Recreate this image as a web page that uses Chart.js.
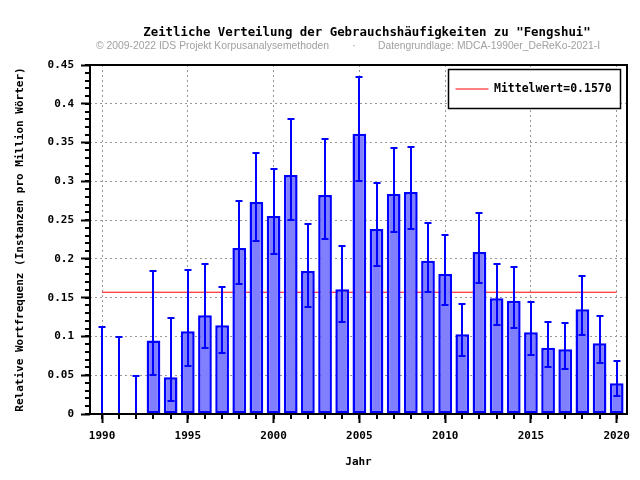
<!DOCTYPE html>
<html>
<head>
<meta charset="utf-8">
<style>
  html, body { margin: 0; padding: 0; background: #fff; }
  #wrap { width: 640px; height: 480px; }
</style>
<script src="https://cdn.jsdelivr.net/npm/chart.js@4"></script>
</head>
<body>
<div id="wrap"><canvas id="c" width="640" height="480"></canvas></div>
<script>
const titleText = 'Zeitliche Verteilung der Gebrauchshäufigkeiten zu "Fengshui"';
const subLeft = '© 2009-2022 IDS Projekt Korpusanalysemethoden';
const subDot = '·';
const subRight = 'Datengrundlage: MDCA-1990er_DeReKo-2021-I';
const yTitle = 'Relative Wortfrequenz (Instanzen pro Million Wörter)';
const xTitle = 'Jahr';
const legendLabel = 'Mittelwert=0.1570';

const years = [1990,1991,1992,1993,1994,1995,1996,1997,1998,1999,2000,2001,2002,2003,2004,2005,2006,2007,2008,2009,2010,2011,2012,2013,2014,2015,2016,2017,2018,2019,2020];
const values = [0,0,0,0.0947,0.0473,0.1067,0.1274,0.1145,0.214,0.2734,0.2553,0.3083,0.1843,0.2825,0.161,0.3613,0.2385,0.2837,0.2863,0.1977,0.1804,0.1028,0.2088,0.1494,0.146,0.1054,0.0853,0.0835,0.1351,0.0912,0.0395];
const upper = [0.1128,0.099,0.0486,0.1839,0.1244,0.1851,0.1929,0.1632,0.2743,0.3363,0.3157,0.3802,0.2446,0.3544,0.2166,0.4349,0.2975,0.3432,0.3445,0.2463,0.2308,0.1412,0.2588,0.1933,0.189,0.1442,0.1183,0.1167,0.1774,0.127,0.068];
const lower = [0,0,0,0.0499,0.0172,0.0615,0.0848,0.0792,0.1675,0.2226,0.2062,0.2497,0.1378,0.2252,0.118,0.3005,0.1903,0.2342,0.2381,0.1571,0.1399,0.0744,0.1687,0.1154,0.1115,0.0766,0.0602,0.0585,0.1025,0.0654,0.0227];
const meanValue = 0.1570;
const meanRange = [1990, 2020];

const xTicks = [1990,1995,2000,2005,2010,2015,2020];
const xTickLabels = ['1990','1995','2000','2005','2010','2015','2020'];
const yTicks = [0,0.05,0.1,0.15,0.2,0.25,0.3,0.35,0.4,0.45];
const yTickLabels = ['0','0.05','0.1','0.15','0.2','0.25','0.3','0.35','0.4','0.45'];
const xMinorTicks = years;
const yMinorTicks = [0,0.01,0.02,0.03,0.04,0.05,0.06,0.07,0.08,0.09,0.1,0.11,0.12,0.13,0.14,0.15,0.16,0.17,0.18,0.19,0.2,0.21,0.22,0.23,0.24,0.25,0.26,0.27,0.28,0.29,0.3,0.31,0.32,0.33,0.34,0.35,0.36,0.37,0.38,0.39,0.4,0.41,0.42,0.43,0.44,0.45];

const MONO = '"DejaVu Sans Mono", "Liberation Mono", monospace';
const SANS = '"Liberation Sans", Arial, sans-serif';

function fitText(ctx, text, x, y, width) {
  const w = ctx.measureText(text).width;
  ctx.save();
  ctx.translate(x, y);
  ctx.scale(width / w, 1);
  ctx.fillText(text, 0, 0);
  ctx.restore();
}

const decor = {
  id: 'decor',
  afterDatasetsDraw(chart) {
    const ctx = chart.ctx;
    const xs = chart.scales.x, ys = chart.scales.y;
    ctx.save();
    ctx.strokeStyle = '#0000ff';
    ctx.lineWidth = 2;
    ctx.lineCap = 'butt';
    for (let i = 0; i < years.length; i++) {
      const px = Math.round(xs.getPixelForValue(years[i]));
      const yTop = Math.round(ys.getPixelForValue(upper[i]));
      const yBot = Math.round(ys.getPixelForValue(lower[i]));
      ctx.beginPath();
      ctx.moveTo(px, yTop); ctx.lineTo(px, yBot);
      ctx.moveTo(px - 3.5, yTop); ctx.lineTo(px + 3.5, yTop);
      ctx.moveTo(px - 3.5, yBot); ctx.lineTo(px + 3.5, yBot);
      ctx.stroke();
    }
    ctx.restore();
  },
  afterDraw(chart) {
    const ctx = chart.ctx;
    const a = chart.chartArea;
    const xs = chart.scales.x, ys = chart.scales.y;
    ctx.save();
    ctx.strokeStyle = '#000';
    ctx.lineWidth = 2;
    ctx.strokeRect(a.left, a.top, a.right - a.left, a.bottom - a.top);
    ctx.beginPath();
    for (const v of yMinorTicks) {
      const py = Math.round(ys.getPixelForValue(v));
      ctx.moveTo(a.left, py); ctx.lineTo(a.left - 5, py);
    }
    for (const v of xMinorTicks) {
      const px = Math.round(xs.getPixelForValue(v));
      ctx.moveTo(px, a.bottom); ctx.lineTo(px, a.bottom + 5);
    }
    ctx.stroke();

    // legend box
    const bx = a.right - 178.5, by = a.top + 4.5, bw = 172, bh = 39;
    ctx.fillStyle = '#fff';
    ctx.fillRect(bx, by, bw, bh);
    ctx.lineWidth = 1.5;
    ctx.strokeStyle = '#000';
    ctx.strokeRect(bx, by, bw, bh);
    ctx.beginPath();
    ctx.strokeStyle = '#ff0000';
    ctx.lineWidth = 1;
    ctx.moveTo(bx + 7, by + 19.5); ctx.lineTo(bx + 40, by + 19.5);
    ctx.stroke();
    ctx.fillStyle = '#000';
    ctx.font = 'bold 11.5px ' + MONO;
    ctx.textAlign = 'left';
    ctx.textBaseline = 'middle';
    ctx.fillText(legendLabel, bx + 45.5, by + 19.5);

    // title
    ctx.font = 'bold 12.4px ' + MONO;
    ctx.textAlign = 'center';
    ctx.fillText(titleText, 367, 33);
    // subtitle
    ctx.fillStyle = '#a0a0a0';
    ctx.font = '11.5px ' + SANS;
    ctx.textAlign = 'left';
    fitText(ctx, subLeft, 96, 46, 233);
    ctx.fillText(subDot, 352, 46);
    fitText(ctx, subRight, 378, 46, 222);

    // axis titles
    ctx.fillStyle = '#000';
    ctx.font = 'bold 11px ' + MONO;
    ctx.textAlign = 'center';
    ctx.fillText(xTitle, (a.left + a.right) / 2, 462);
    ctx.translate(20, (a.top + a.bottom) / 2);
    ctx.rotate(-Math.PI / 2);
    ctx.fillText(yTitle, 0, 0);
    ctx.restore();
  }
};

new Chart(document.getElementById('c'), {
  type: 'bar',
  data: {
    datasets: [
      {
        type: 'bar',
        data: years.map((y, i) => ({ x: y, y: values[i] })),
        backgroundColor: '#8080ff',
        borderColor: '#0000ff',
        borderWidth: 2.5,
        borderSkipped: false,
        barPercentage: 0.8,
        categoryPercentage: 1,
        order: 0
      },
      {
        type: 'line',
        data: meanRange.map(x => ({ x: x, y: meanValue })),
        borderColor: '#ff0000',
        borderWidth: 1,
        pointRadius: 0,
        fill: false,
        order: 1
      }
    ]
  },
  plugins: [decor],
  options: {
    responsive: false,
    animation: false,
    events: [],
    layout: { padding: { left: 0, right: 13, top: 65, bottom: 0 } },
    plugins: { legend: { display: false }, title: { display: false }, tooltip: { enabled: false } },
    scales: {
      x: {
        type: 'linear',
        min: 1989.3,
        max: 2020.6,
        offset: false,
        afterFit(s) { s.height = 66; },
        afterBuildTicks(s) { s.ticks = xTicks.map(v => ({ value: v })); },
        grid: {
          offset: false,
          color: '#999999',
          lineWidth: 1,
          tickLength: 9,
          tickColor: '#000',
          tickWidth: 2,
          tickBorderDash: []
        },
        border: { display: false, dash: [2, 3] },
        ticks: {
          maxRotation: 0,
          autoSkip: false,
          padding: 7,
          color: '#000',
          font: { family: MONO, size: 11, weight: 'bold' },
          callback: (v) => { const i = xTicks.indexOf(v); return i >= 0 ? xTickLabels[i] : ''; }
        }
      },
      y: {
        type: 'linear',
        min: 0,
        max: 0.45,
        afterFit(s) { s.width = 90; },
        afterBuildTicks(s) { s.ticks = yTicks.map(v => ({ value: v })); },
        grid: {
          color: '#999999',
          lineWidth: 1,
          tickLength: 9,
          tickColor: '#000',
          tickWidth: 2,
          tickBorderDash: []
        },
        border: { display: false, dash: [2, 3] },
        ticks: {
          autoSkip: false,
          padding: 7,
          color: '#000',
          font: { family: MONO, size: 11, weight: 'bold' },
          callback: (v) => { const i = yTicks.findIndex(t => Math.abs(t - v) < 1e-9); return i >= 0 ? yTickLabels[i] : ''; }
        }
      }
    }
  }
});
</script>
</body>
</html>
